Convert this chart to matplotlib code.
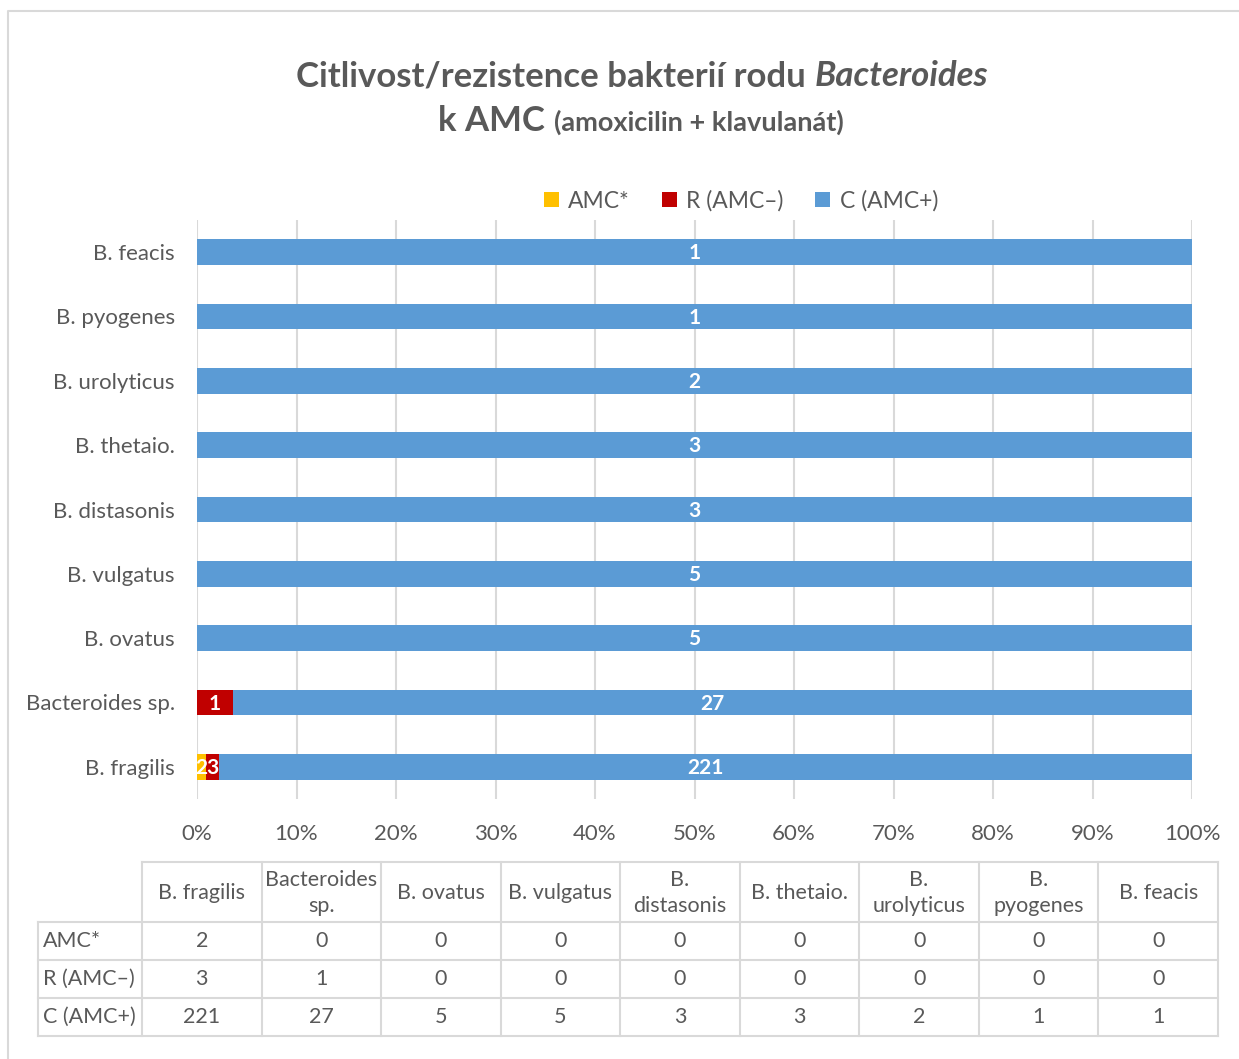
import matplotlib
matplotlib.use("Agg")
from matplotlib import pyplot as plt
from matplotlib.ticker import PercentFormatter
import numpy as np

plt.rcParams['font.family'] = ['Lato', 'DejaVu Sans']

species = ['B. fragilis', 'Bacteroides sp.', 'B. ovatus', 'B. vulgatus', 'B. distasonis',
           'B. thetaio.', 'B. urolyticus', 'B. pyogenes', 'B. feacis']
table_heads = ['B. fragilis', 'Bacteroides\nsp.', 'B. ovatus', 'B. vulgatus', 'B.\ndistasonis',
               'B. thetaio.', 'B.\nurolyticus', 'B.\npyogenes', 'B. feacis']
series_names = ['AMC*', 'R (AMC\u2013)', 'C (AMC+)']
amc_star = [2, 0, 0, 0, 0, 0, 0, 0, 0]
resistant = [3, 1, 0, 0, 0, 0, 0, 0, 0]
sensitive = [221, 27, 5, 5, 3, 3, 2, 1, 1]
colors = ['#FFC000', '#C00000', '#5B9BD5']

grey = '#595959'
W, H = 1239, 1059
fig = plt.figure(figsize=(W / 100, H / 100), dpi=100)

# chart frame (left and top edges only are visible)
frame = fig.add_axes([0, 0, 1, 1])
frame.set_xlim(0, W)
frame.set_ylim(H, 0)
frame.axis('off')
frame.plot([8, 8, W], [H, 11, 11], color='#D9D9D9', lw=1.5)

# stacked percentage bars
ax = fig.add_axes([197 / W, 1 - 799 / H, 995 / W, 579 / H])
counts = np.array([amc_star, resistant, sensitive], dtype=float)
share = counts / counts.sum(axis=0)
y = np.arange(len(species))
left = np.zeros(len(species))
handles = []
for name, vals, raw, c in zip(series_names, share, counts, colors):
    bars = ax.barh(y, vals, left=left, height=0.4, color=c, label=name, zorder=3)
    handles.append(bars)
    for yi, l, v, n in zip(y, left, vals, raw):
        if n > 0:
            ax.text(l + v / 2, yi - 0.02, f'{int(n)}', ha='center', va='center', color='white',
                    fontsize=15, fontweight='bold', zorder=4)
    left += vals

ax.set_xlim(0, 1)
ax.set_ylim(-0.5, len(species) - 0.5)
ax.set_xticks(np.linspace(0, 1, 11))
ax.xaxis.set_major_formatter(PercentFormatter(1.0, decimals=0))
ax.set_yticks(y)
ax.set_yticklabels(species)
ax.tick_params(length=0, labelsize=16, labelcolor=grey)
ax.tick_params(axis='x', pad=18)
ax.tick_params(axis='y', pad=16)
ax.grid(axis='x', color='#D9D9D9', lw=1.5, zorder=0)
for s in ax.spines.values():
    s.set_visible(False)

fig.legend(handles=handles, labels=series_names, loc='center', bbox_to_anchor=(741 / W, 1 - 201 / H),
           ncol=3, frameon=False, fontsize=16.5, labelcolor=grey, handlelength=0.65,
           handleheight=0.65, handletextpad=0.4, columnspacing=1.4)

# title made of pieces with different style/size
renderer = fig.canvas.get_renderer()


def title_line(pieces, cx, base):
    texts = []
    for txt, size, style in pieces:
        t = frame.text(0, base, txt, fontsize=size, fontweight='bold', fontstyle=style,
                       color=grey, va='baseline', ha='left')
        texts.append(t)
    widths = [t.get_window_extent(renderer).width for t in texts]
    x = cx - sum(widths) / 2
    for t, w in zip(texts, widths):
        t.set_x(x)
        x += w


title_line([('Citlivost/rezistence bakterií rodu ', 25, 'normal'), ('Bacteroides', 25, 'italic')], 642, 86)
title_line([('k AMC ', 25, 'normal'), ('(amoxicilin + klavulanát)', 19.5, 'normal')], 641, 131)

# data table under the chart
col_edges = np.linspace(142, 1218, len(species) + 1)
row_edges = [862, 922, 960, 998, 1036]
lc = '#D9D9D9'
frame.plot([col_edges[0], col_edges[-1]], [row_edges[0]] * 2, color=lc, lw=1.5)
for yy in row_edges[1:]:
    frame.plot([38, col_edges[-1]], [yy, yy], color=lc, lw=1.5)
frame.plot([38, 38], [row_edges[1], row_edges[-1]], color=lc, lw=1.5)
for xx in col_edges:
    frame.plot([xx, xx], [row_edges[0], row_edges[-1]], color=lc, lw=1.5)

for j, head in enumerate(table_heads):
    cx = (col_edges[j] + col_edges[j + 1]) / 2
    frame.text(cx, (row_edges[0] + row_edges[1]) / 2 + 1, head, ha='center', va='center',
               fontsize=15.5, color=grey, linespacing=1.35)
for i, (name, row) in enumerate(zip(series_names, counts)):
    cy = (row_edges[i + 1] + row_edges[i + 2]) / 2
    frame.text(43, cy, name, ha='left', va='center', fontsize=15.5, color=grey)
    for j, v in enumerate(row):
        cx = (col_edges[j] + col_edges[j + 1]) / 2
        frame.text(cx, cy, f'{int(v)}', ha='center', va='center', fontsize=15.5, color=grey)

fig.savefig('out.png', dpi=100)
